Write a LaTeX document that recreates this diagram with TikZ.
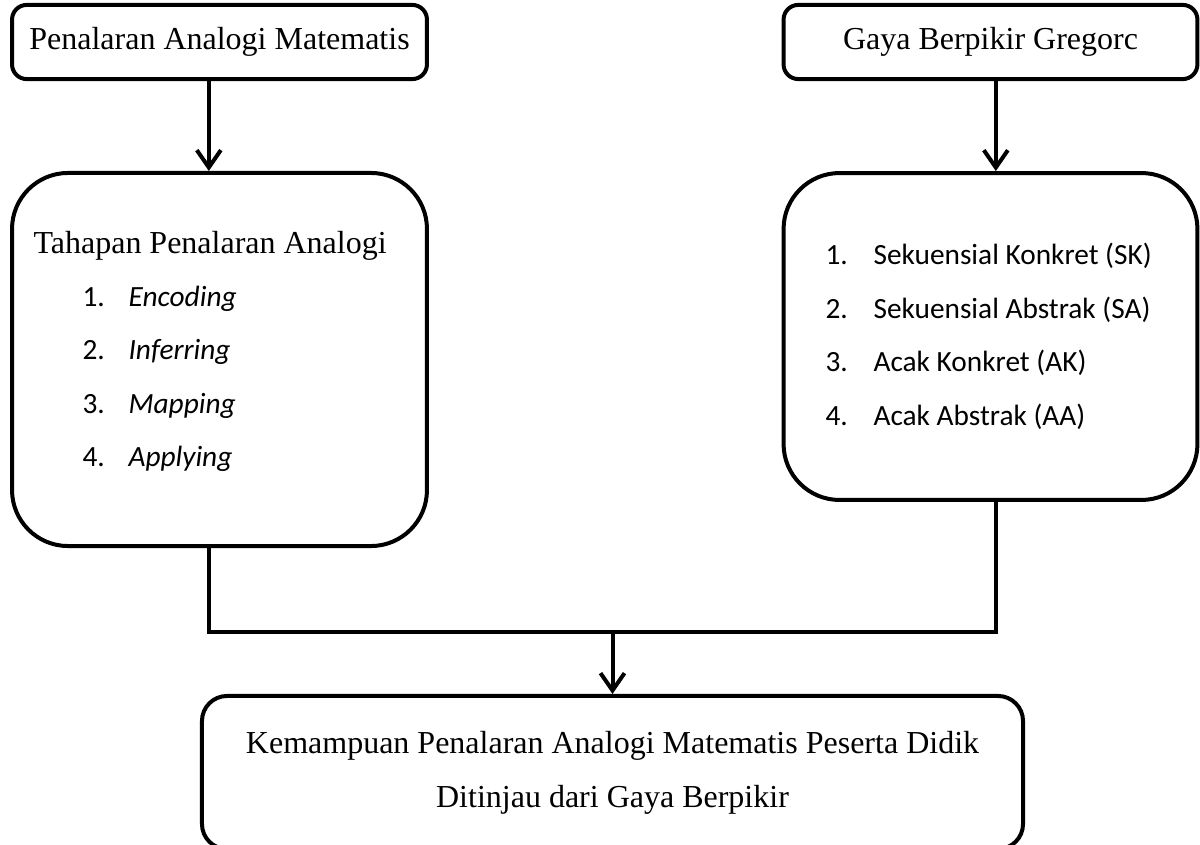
\documentclass[tikz,border=0pt]{standalone}
\usepackage{fontspec}
\setmainfont{Liberation Serif}
\newfontfamily\listfont{Carlito}
\usetikzlibrary{arrows.meta, positioning, calc}

\begin{document}
\begin{tikzpicture}[x=0.375pt, y=-0.375pt,
  box/.style={draw, line width=1.5pt, rounded corners=#1, inner sep=0pt},
  box/.default=5.5pt,
  head/.style={inner sep=0pt, anchor=base west, font=\fontsize{12}{14}\selectfont},
  item/.style={inner sep=0pt, anchor=base west, font=\listfont\fontsize{11}{13}\selectfont},
  link/.style={line width=1.5pt, line join=miter},
  arr/.style={link, -{Straight Barb[length=6.5pt, width=9pt]}}]

  \useasboundingbox (0,0) rectangle (1200,845);

  % Top: the two sources
  \node[box, minimum width=155.6pt, minimum height=27.8pt,
        font=\fontsize{12}{14}\selectfont] (pam) at (219.5,42) {Penalaran Analogi Matematis};
  \node[box, minimum width=155.2pt, minimum height=27.8pt,
        font=\fontsize{12}{14}\selectfont] (gbg) at (990.5,42) {Gaya Berpikir Gregorc};

  % Middle: the two detail boxes
  \node[box=21pt, minimum width=155.6pt, minimum height=139.9pt] (tahap) at (219.5,359.5) {};
  \node[box=21pt, minimum width=155.2pt, minimum height=122.6pt] (gaya) at (990.5,336.5) {};

  % Left list
  \node[head] (tahap-title) at (33,253.5) {Tahapan Penalaran Analogi};
  \node[item] (t1) at (82,306.5) {1.};
  \node[item] (enc) at (128,306.5) {\itshape Encoding};
  \node[item] (t2) at (82,360) {2.};
  \node[item] (inf) at (128,360) {\itshape Inferring};
  \node[item] (t3) at (82,413) {3.};
  \node[item] (map) at (128,413) {\itshape Mapping};
  \node[item] (t4) at (82,466.5) {4.};
  \node[item] (app) at (128,466.5) {\itshape Applying};

  % Right list
  \node[item] (g1) at (825,264.5) {1.};
  \node[item] (sk) at (873,264.5) {Sekuensial Konkret (SK)};
  \node[item] (g2) at (825,318) {2.};
  \node[item] (sa) at (873,318) {Sekuensial Abstrak (SA)};
  \node[item] (g3) at (825,371.5) {3.};
  \node[item] (ak) at (873,371.5) {Acak Konkret (AK)};
  \node[item] (g4) at (825,425) {4.};
  \node[item] (aa) at (873,425) {Acak Abstrak (AA)};

  % Bottom: the result (its lower edge runs off the page)
  \node[box=9.4pt, minimum width=307.9pt, minimum height=57.4pt, align=center,
        font=\fontsize{12}{20.25}\selectfont] (hasil) at (612.5,772.5)
        {Kemampuan Penalaran Analogi Matematis Peserta Didik\\Ditinjau dari Gaya Berpikir};

  % Connectors
  \draw[arr] ([xshift=-4pt]pam.south) -- ([xshift=-4pt]tahap.north);
  \draw[arr] ([xshift=2pt]gbg.south) -- ([xshift=2pt]gaya.north);
  \coordinate (join) at (612.5,632);
  \draw[link] ([xshift=-4pt]tahap.south) |- (join);
  \draw[link] ([xshift=2pt]gaya.south) |- (join);
  \draw[arr] (join) -- (hasil.north);
\end{tikzpicture}
\end{document}
